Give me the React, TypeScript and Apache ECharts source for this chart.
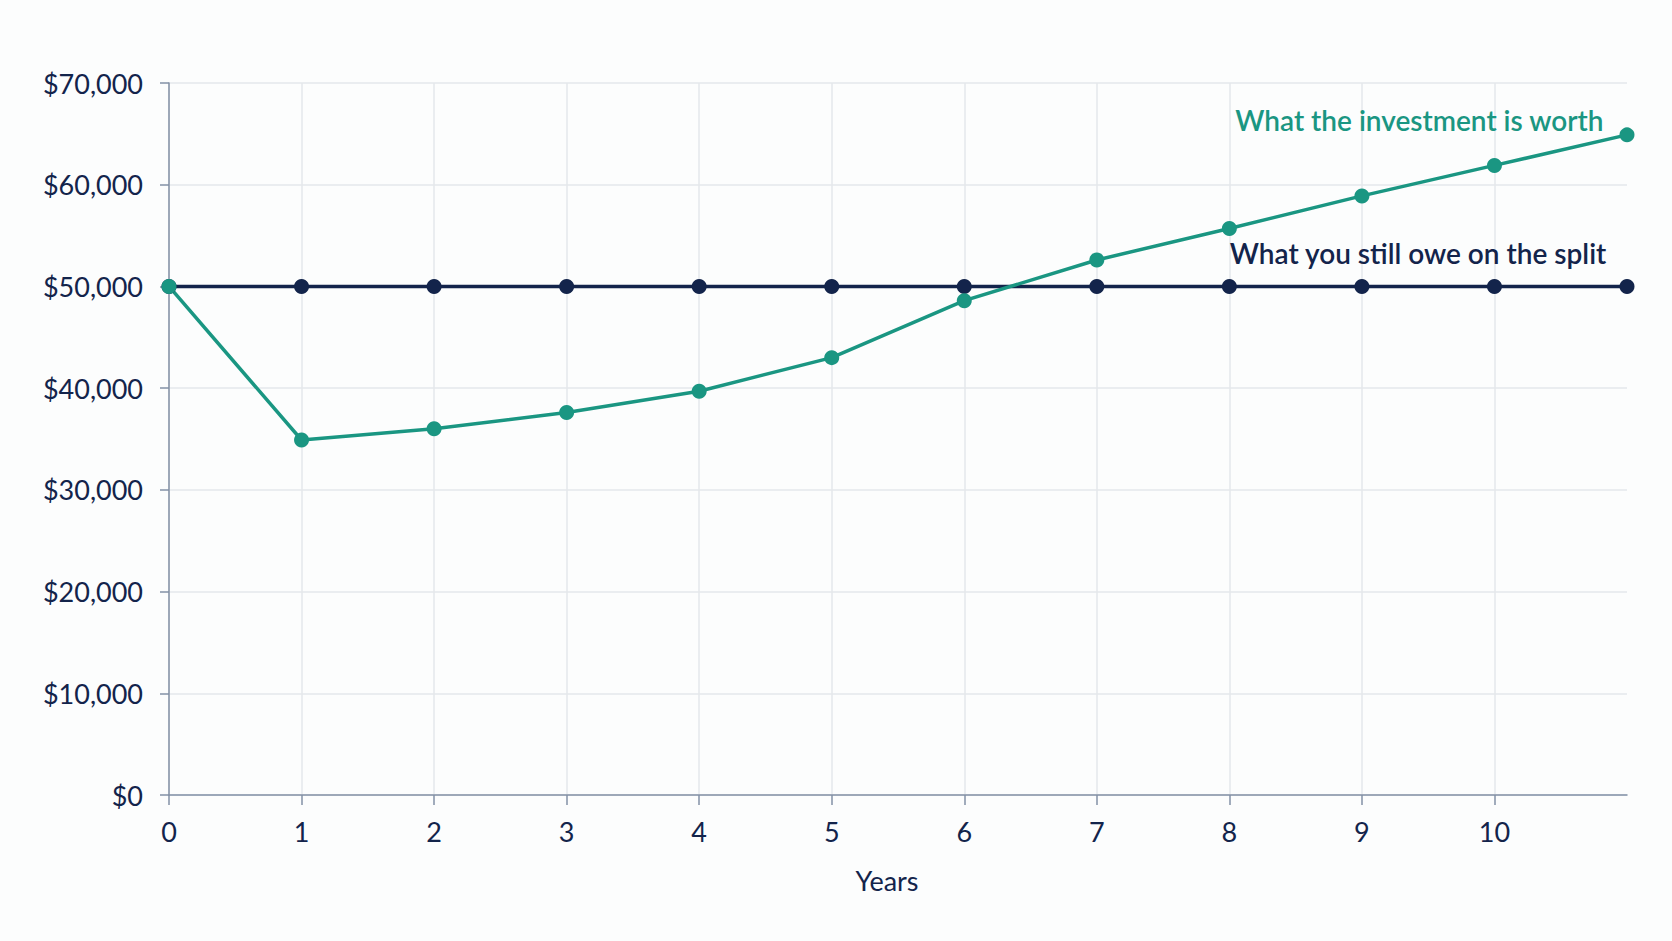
import { useEffect, useRef } from 'react';
import * as echarts from 'echarts';

const years = [0, 1, 2, 3, 4, 5, 6, 7, 8, 9, 10, 11];
const investmentWorth = [50000, 34900, 36000, 37600, 39700, 43000, 48600, 52600, 55700, 58900, 61900, 64900];
const stillOwe = [50000, 50000, 50000, 50000, 50000, 50000, 50000, 50000, 50000, 50000, 50000, 50000];
const tickYears = [0, 1, 2, 3, 4, 5, 6, 7, 8, 9, 10];

const TEAL = '#1a9682';
const NAVY = '#13244b';
const AXIS = '#8391a6';
const GRID = '#e4e7eb';
const FONT = 'Lato, "Open Sans", sans-serif';

export default function App() {
  const chartRef = useRef<HTMLDivElement>(null);

  useEffect(() => {
    if (!chartRef.current) return;
    const chart = echarts.init(chartRef.current, null, { renderer: 'svg' });

    const option: echarts.EChartsOption = {
      animation: false,
      backgroundColor: '#fcfdfd',
      textStyle: { fontFamily: FONT },
      grid: { left: 169, right: 45, top: 83, bottom: 146 },
      xAxis: {
        type: 'value',
        min: 0,
        max: 11,
        interval: 1,
        name: 'Years',
        nameLocation: 'middle',
        nameGap: 72,
        nameTextStyle: { color: NAVY, fontSize: 27, fontFamily: FONT, padding: [0, 22, 0, 0] },
        axisLine: { show: true, lineStyle: { color: AXIS, width: 1.5 } },
        axisTick: { show: true, length: 10, lineStyle: { color: AXIS, width: 1.5 }, customValues: tickYears },
        axisLabel: {
          color: NAVY,
          fontSize: 27,
          fontFamily: FONT,
          margin: 23,
          customValues: tickYears,
          formatter: (v: number) => (v > 10 ? '' : String(v)),
        },
        splitLine: { show: true, lineStyle: { color: GRID, width: 1.5 } },
      },
      yAxis: {
        type: 'value',
        min: 0,
        max: 70000,
        interval: 10000,
        axisLine: { show: true, lineStyle: { color: AXIS, width: 1.5 } },
        axisTick: { show: true, length: 9, lineStyle: { color: AXIS, width: 1.5 } },
        axisLabel: {
          color: NAVY,
          fontSize: 27,
          fontFamily: FONT,
          margin: 26,
          formatter: (v: number) => '$' + v.toLocaleString('en-US'),
        },
        splitLine: { show: true, lineStyle: { color: GRID, width: 1.5 } },
      },
      series: [
        {
          name: 'What you still owe on the split',
          type: 'line',
          data: years.map((y, i) => [y, stillOwe[i]]),
          symbol: 'circle',
          symbolSize: 15,
          lineStyle: { color: NAVY, width: 3.5 },
          itemStyle: { color: NAVY },
        },
        {
          name: 'What the investment is worth',
          type: 'line',
          data: years.map((y, i) => [y, investmentWorth[i]]),
          symbol: 'circle',
          symbolSize: 15,
          lineStyle: { color: TEAL, width: 3.5 },
          itemStyle: { color: TEAL },
        },
      ],
      graphic: [
        {
          type: 'text',
          right: 68,
          top: 106,
          z: 100,
          style: { text: 'What the investment is worth', fill: TEAL, font: `600 28px ${FONT}` },
        },
        {
          type: 'text',
          right: 65,
          top: 239,
          z: 100,
          style: { text: 'What you still owe on the split', fill: NAVY, font: `600 28px ${FONT}` },
        },
      ],
    };

    chart.setOption(option);
    return () => chart.dispose();
  }, []);

  return <div ref={chartRef} style={{ position: 'fixed', left: 0, top: 0, width: 1672, height: 941 }} />;
}
